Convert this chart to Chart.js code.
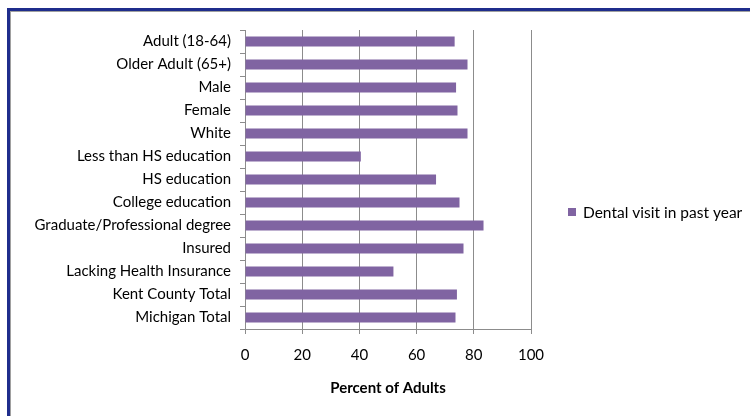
<!DOCTYPE html>
<html>
<head>
<meta charset="utf-8">
<script src="https://cdn.jsdelivr.net/npm/chart.js@4"></script>
<style>
  html, body { margin: 0; padding: 0; background: #fff; overflow: hidden; }
  #wrap { position: relative; width: 750px; height: 416px; }
  #myChart { position: absolute; left: 0; top: 0; }
  .frame { position: absolute; pointer-events: none; }
  #blue { left: 7px; top: 8px; width: 800px; height: 500px; border-left: 3px solid #1f2d8c; border-top: 3px solid #1f2d8c; }
  #gray { left: 10px; top: 11px; width: 800px; height: 500px; border-left: 1px solid #a0a0a0; border-top: 1px solid #a0a0a0; }
</style>
</head>
<body>
<div id="wrap">
  <canvas id="myChart" width="750" height="416"></canvas>
  <div class="frame" id="blue"></div>
  <div class="frame" id="gray"></div>
</div>
<script>
"use strict";

const categories = [
  "Adult (18-64)",
  "Older Adult (65+)",
  "Male",
  "Female",
  "White",
  "Less than HS education",
  "HS education",
  "College education",
  "Graduate/Professional degree",
  "Insured",
  "Lacking Health Insurance",
  "Kent County Total",
  "Michigan Total",
];
const dentalVisit = [73.3, 77.8, 73.8, 74.3, 77.8, 40.5, 66.8, 75.0, 83.4, 76.4, 51.9, 74.1, 73.6];
const seriesName = "Dental visit in past year";
const xTicks = [0, 20, 40, 60, 80, 100];
const xTitle = "Percent of Adults";

const barColor = "#8064a2";
const gridColor = "#8c8c8c";
const fontFamily = "Lato, 'Open Sans', sans-serif";

// legend drawn by hand so it sits where Excel put it
const sideLegend = {
  id: "sideLegend",
  afterDraw(chart) {
    const ctx = chart.ctx;
    const ds = chart.data.datasets[0];
    ctx.save();
    ctx.fillStyle = ds.backgroundColor;
    ctx.fillRect(568, 208, 8, 8);
    ctx.fillStyle = "#000";
    ctx.font = "15.5px " + fontFamily;
    ctx.textBaseline = "middle";
    ctx.textAlign = "left";
    ctx.fillText(ds.label, 583, 213);
    ctx.restore();
  },
};

const data = {
  labels: categories,
  datasets: [
    {
      label: seriesName,
      data: dentalVisit,
      backgroundColor: barColor,
      barPercentage: 0.44,
      categoryPercentage: 1,
    },
  ],
};

const config = {
  type: "bar",
  data: data,
  plugins: [sideLegend],
  options: {
    indexAxis: "y",
    responsive: false,
    animation: false,
    layout: { padding: { left: 10, right: 219, top: 30, bottom: 19 } },
    plugins: {
      legend: { display: false },
      tooltip: { enabled: false },
    },
    scales: {
      y: {
        grid: {
          drawOnChartArea: false,
          drawTicks: true,
          tickLength: 5,
          color: gridColor,
        },
        border: { color: gridColor },
        ticks: {
          color: "#000",
          padding: 9,
          font: { family: fontFamily, size: 15 },
        },
        afterFit(scale) {
          scale.width = 235;
        },
      },
      x: {
        min: 0,
        max: 100,
        afterBuildTicks(scale) {
          scale.ticks = xTicks.map((v) => ({ value: v }));
        },
        grid: {
          color: gridColor,
          tickLength: 5,
        },
        border: { color: gridColor },
        ticks: {
          color: "#000",
          padding: 12,
          font: { family: fontFamily, size: 15 },
        },
        title: {
          display: true,
          text: xTitle,
          color: "#000",
          padding: { top: 16, bottom: 0 },
          font: { family: fontFamily, size: 15, weight: "bold" },
        },
        afterFit(scale) {
          scale.height = 416 - 329 - 19;
        },
      },
    },
  },
};

const myChart = new Chart(document.getElementById("myChart"), config);
</script>
</body>
</html>
